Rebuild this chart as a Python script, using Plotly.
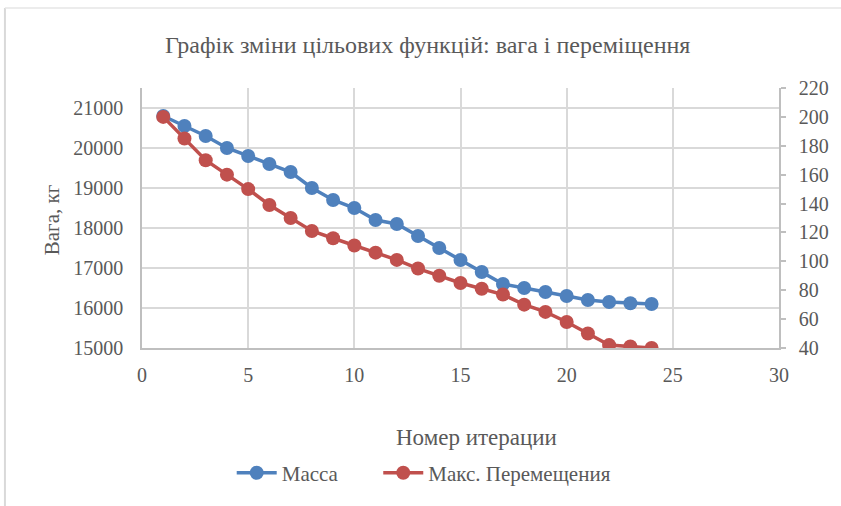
import plotly.graph_objects as go

# Iteration numbers and the two objective functions
iterations = list(range(1, 25))
mass_kg = [20800, 20550, 20300, 20000, 19800, 19600, 19400, 19000, 18700, 18500,
           18200, 18100, 17800, 17500, 17200, 16900, 16600, 16500, 16400, 16300,
           16200, 16150, 16120, 16100]
max_displacement = [200, 185, 170, 160, 150, 139, 130, 121, 116, 111,
                    106, 101, 95, 90, 85, 81, 77, 70, 65, 58,
                    50, 42, 41, 40]

left_ticks = [15000, 16000, 17000, 18000, 19000, 20000, 21000]
right_ticks = [40, 60, 80, 100, 120, 140, 160, 180, 200, 220]
x_ticks = [0, 5, 10, 15, 20, 25, 30]

BLUE = "#4F81BD"
RED = "#C0504D"
TEXT = "#595959"
GRID = "#D9D9D9"
AXIS = "#BFBFBF"
FONT = "Liberation Serif"

W, H = 841, 506
L, R, T, B = 142, 60, 88, 156
pw, ph = W - L - R, H - T - B


def px_x(p):
    return (p - L) / pw


def px_y(p):
    return (H - B - p) / ph


fig = go.Figure()
fig.add_trace(go.Scatter(
    x=iterations, y=mass_kg, name="Масса", mode="lines+markers",
    line=dict(color=BLUE, width=3.5), marker=dict(color=BLUE, size=14),
    yaxis="y", legend="legend",
))
fig.add_trace(go.Scatter(
    x=iterations, y=max_displacement, name="Макс. Перемещения", mode="lines+markers",
    line=dict(color=RED, width=3.5), marker=dict(color=RED, size=14),
    yaxis="y2", legend="legend2",
))

legend_style = dict(
    orientation="h", xanchor="left", y=px_y(476), yanchor="middle",
    font=dict(family=FONT, size=21, color=TEXT), itemwidth=40,
    bgcolor="rgba(0,0,0,0)",
)

fig.update_layout(
    width=W, height=H,
    margin=dict(l=L, r=R, t=T, b=B),
    paper_bgcolor="white", plot_bgcolor="white",
    font=dict(family=FONT, color=TEXT, size=20),
    showlegend=True,
    legend=dict(x=px_x(232), **legend_style),
    legend2=dict(x=px_x(379), **legend_style),
    xaxis=dict(
        range=[0, 30], tickvals=x_ticks, showgrid=True, gridcolor=GRID, gridwidth=1.5,
        showline=True, linecolor=AXIS, linewidth=1.5, zeroline=False,
        ticks="", ticklabelstandoff=8, tickfont=dict(family=FONT, size=20, color=TEXT),
    ),
    yaxis=dict(
        range=[15000, 21500], tickvals=left_ticks, tickformat="d",
        showgrid=True, gridcolor=GRID, gridwidth=1.5,
        showline=True, linecolor=AXIS, linewidth=1.5, zeroline=False,
        ticks="", ticklen=0, ticklabelstandoff=13,
        tickfont=dict(family=FONT, size=20, color=TEXT),
    ),
    yaxis2=dict(
        range=[40, 220], tickvals=right_ticks, overlaying="y", side="right",
        showgrid=False, showline=True, linecolor=AXIS, linewidth=1.5, zeroline=False,
        ticks="outside", ticklen=5, tickcolor=AXIS, tickwidth=1.5, ticklabelstandoff=9,
        tickfont=dict(family=FONT, size=20, color=TEXT),
    ),
    annotations=[
        dict(text="Графік зміни цільових функцій: вага і переміщення",
             xref="paper", yref="paper", x=px_x(428), y=px_y(45),
             xanchor="center", yanchor="middle",
             showarrow=False, font=dict(family=FONT, size=24, color=TEXT)),
        dict(text="Номер итерации", xref="paper", yref="paper",
             x=px_x(478), y=px_y(440), xanchor="center", yanchor="middle",
             showarrow=False, font=dict(family=FONT, size=23, color=TEXT)),
        dict(text="Вага, кг", xref="paper", yref="paper", textangle=-90,
             x=px_x(52), y=px_y(221), xanchor="center", yanchor="middle",
             showarrow=False, font=dict(family=FONT, size=21, color=TEXT)),
    ],
    shapes=[
        dict(type="line", xref="paper", yref="paper",
             x0=px_x(4.5), x1=px_x(4.5), y0=px_y(7.5), y1=px_y(H + 5),
             line=dict(color=GRID, width=2)),
        dict(type="line", xref="paper", yref="paper",
             x0=px_x(4.5), x1=px_x(W + 5), y0=px_y(7.5), y1=px_y(7.5),
             line=dict(color="#E6E6E6", width=1.5)),
    ],
)

fig.write_html("out.html")
